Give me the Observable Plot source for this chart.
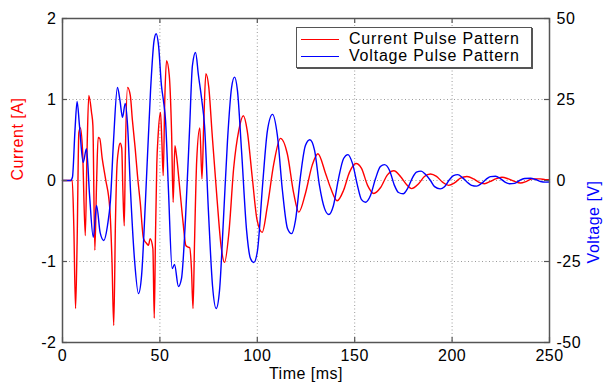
<!DOCTYPE html>
<html>
<head>
<meta charset="utf-8">
<script src="https://cdn.jsdelivr.net/npm/d3@7"></script>
<script src="https://cdn.jsdelivr.net/npm/@observablehq/plot@0.6"></script>
<style>
  body { margin: 0; background: #fff; font-family: "Liberation Sans", Arial, Helvetica, sans-serif; }
  #wrap { position: relative; width: 603px; height: 387px; overflow: hidden; }
  #chart text { letter-spacing: 0.5px; }
  #legend { position: absolute; left: 296px; top: 27px; width: 234px; height: 39px; border: 1px solid #555;
            box-shadow: 1px 1px 0 #555; background: #fff; font-size: 16px; letter-spacing: 0.8px; color: #000; }
  .row { position: absolute; left: 0; height: 18px; display: flex; align-items: center; }
  .sw { position: absolute; left: 4px; width: 38px; height: 0; border-top: 1.3px solid; }
  .lab { position: absolute; left: 52px; white-space: nowrap; line-height: 18px; }
</style>
</head>
<body>
<div id="wrap">
  <div id="chart"></div>
  <div id="legend">
    <div class="row" style="top:2px"><div class="sw" style="border-color:#ff0000"></div><div class="lab">Current Pulse Pattern</div></div>
    <div class="row" style="top:19px"><div class="sw" style="border-color:#0000ff"></div><div class="lab">Voltage Pulse Pattern</div></div>
  </div>
</div>
<script>
// Time axis [ms]
const xTicks = [0, 50, 100, 150, 200, 250];
const currentTicks = [-2, -1, 0, 1, 2];
const voltageTicks = [-50, -25, 0, 25, 50];
const voltagePerAmpAxis = 25; // right axis: 50 V corresponds to 2 A on the left axis

// Current pulse pattern [A]
const currentTime = [0, 5, 5.8, 6.7, 7.5, 8.4, 9.2, 10.3, 11.7, 12.6, 13.5, 14.9, 15.6, 16.6, 17.5, 18.3, 19.1, 20.4, 22.1, 24.3,
  25.4, 26.3, 27.2, 27.9, 28.7, 29.6, 30.4, 31, 31.7, 32.3, 33.4, 34.8, 35.9, 37.3, 38.5, 39.9, 41.6, 43.3, 44.1, 45, 46.4,
  47.1, 47.7, 48.4, 49.1, 50.3, 51, 51.7, 52.5, 53.4, 54.8, 56, 56.8, 57.7, 58.5, 60.2, 61.9, 63.3, 64.2, 65.3, 66.2, 67,
  67.8, 68.9, 70.5, 71.6, 72.5, 73.6, 75.1, 76.8, 79.4, 81.5, 83.2, 85.4, 87.9, 90.5, 92.8, 94.8, 97.4, 99.9, 102.5, 105.1,
  108.5, 111.9, 115.4, 118.7, 121.3, 124.7, 128.2, 131.1, 135, 137.6, 141, 144.3, 147.3, 150.7, 153.5, 156.6, 159.8, 163.2,
  166.8, 170.1, 173.5, 176.6, 179.2, 182.8, 185.8, 188.9, 192, 195.1, 198.2, 201.2, 204.3, 207.6, 211, 213.6, 216.6, 219.7,
  222.3, 225.6, 228.9, 232, 235.1, 238.2, 241.3, 245.2, 247.9, 250];
const currentValues = [0, 0, -0.56, -1.58, -0.77, 0.59, 0.65, 0.37, -0.68, 0.37, 1.05, 0.84, 0.68, -0.86, -0.02, 0.53, 0.52, 0.27, 0.02, -0.35,
  -0.99, -1.79, -0.49, 0.15, 0.37, 0.46, 0.4, -0.12, -0.56, 0.37, 1.15, 1.05, 0.74, 0.4, 0.06, -0.27, -0.72, -0.78, -0.8, -0.72, -0.84,
  -1.7, -0.74, 0.19, 0.56, 0.84, 0.49, 0.06, 0.99, 1.48, 1.3, 0.59, -0.27, 0.43, 0.31, -0.1, -0.52, -0.8, -0.82, -0.83, -1.09, -1.58,
  -0.74, 0.25, 0.65, 0.02, 0.7, 1.32, 1.15, 0.58, -0.25, -0.83, -1.01, -0.65, 0.16, 0.62, 0.8, 0.62, 0.04, -0.49, -0.64, -0.33,
  0.21, 0.52, 0.33, -0.16, -0.39, -0.16, 0.19, 0.33, 0.09, -0.09, -0.25, -0.12, 0.1, 0.21, 0.15, -0.06, -0.16, -0.09,
  0.07, 0.12, 0.05, -0.05, -0.1, -0.04, 0.05, 0.08, 0.05, -0.02, -0.06, -0.03, 0.03, 0.05, 0.02, -0.02, -0.04, -0.01,
  0.02, 0.04, 0.02, -0.01, -0.03, -0.01, 0.02, 0.02, 0.01, 0.01];

// Voltage pulse pattern [V]
const voltageTime = [0, 4.1, 5.1, 6.4, 7.5, 8.7, 10.6, 12.3, 13.9, 15.8, 17.5, 19.3, 21.2, 23.1, 24.6, 26.2, 28.2, 29.5, 30.8, 32.2,
  33.4, 34.9, 37, 39, 40.6, 42.6, 45.2, 47, 48.1, 49.3, 50.8, 51.8, 52.9, 54.4, 56.3, 57.5, 59.5, 61.1, 63.1, 65.2, 66.7,
  68.3, 69.8, 71.4, 72.9, 74.9, 77, 78.9, 80.6, 82.6, 84.7, 86.8, 88.3, 89.8, 91.9, 94.5, 96.5, 98.2, 100.1, 102.7, 105.2,
  107.8, 110.3, 112.9, 115.5, 117.6, 119.6, 122.2, 124.7, 127, 129.4, 131.9, 134.5, 136.7, 139.1, 141.7, 144.3, 146.5,
  148.9, 151.4, 153.5, 155.5, 158.1, 160.7, 163.2, 165.3, 167.9, 170.4, 172.5, 174.9, 177.1, 179.7, 181.7, 184.1, 186.3,
  188.9, 191, 193.9, 196.1, 198.7, 200.7, 202.9, 205.3, 207.9, 210, 212.6, 215.1, 217.7, 219.7, 222.3, 224.8, 227.4,
  229.5, 232.1, 234.6, 237.2, 240.3, 242.8, 245.4, 248, 250];
const voltageValues = [0, 0, 1, 15.4, 24.4, 17, 5.6, 9.8, -4.6, -17.5, -7.7, -16, -18.5, -13.9, -6.2, 12.3, 28.7, 24.7, 19.5, 23.8,
  17, -3, -24.7, -34.9, -29.3, -6.2, 27.8, 43.2, 45.3, 41.7, 29.3, 24.7, 18.5, -3.1, -27.2, -25.9, -32.7, -30.2, -12.3, 15.4, 35.5,
  39.5, 32.4, 25.3, 17, -9.3, -32.4, -39.5, -34, -12.3, 12.3, 28.7, 31.9, 27.8, 9.3, -15.4, -24.1, -25.3, -21.6, -1.5, 15.4,
  20.4, 13.9, -3.1, -14.8, -16.4, -12.3, 1.5, 10.8, 12.6, 9.3, -1.5, -8.6, -10.5, -7.7, 0.6, 6.8, 8,
  5.2, -1.5, -5.9, -6.7, -4.6, 0.6, 4.3, 4.9, 3.1, -1.5, -3.7, -4.1, -2.5, 0.9, 2.6, 2.9, 1.9,
  0, -1.9, -2.6, -1.9, 0.3, 1.5, 1.8, 0.9, -0.6, -1.5, -1.75, -0.9, 0.5, 1.2, 1.3, 0.6, -0.6,
  -1, -0.9, 0, 0.6, 0.7, 0.3, -0.3, -0.5, -0.45];

const current = currentTime.map((t, i) => ({t, a: currentValues[i]}));
const voltage = voltageTime.map((t, i) => ({t, v: voltageValues[i]}));

const W = 603, H = 387, mL = 62, mR = 54, mT = 18, mB = 45;
const innerW = W - mL - mR, innerH = H - mT - mB;
const tickLen = 5;
const frameColor = "#555";
const fmt = d => String(d);

const chart = Plot.plot({
  width: W, height: H,
  marginLeft: mL, marginRight: mR, marginTop: mT, marginBottom: mB,
  style: {fontFamily: '"Liberation Sans", Arial, Helvetica, sans-serif', background: "#fff"},
  x: {domain: [0, 250]},
  y: {domain: [-2, 2]},
  marks: [
    Plot.gridX(xTicks.slice(1, -1), {stroke: "#9a9a9a", strokeOpacity: 1, strokeDasharray: "1,2.5", strokeWidth: 1}),
    Plot.gridY(currentTicks.slice(1, -1), {stroke: "#9a9a9a", strokeOpacity: 1, strokeDasharray: "1,2.5", strokeWidth: 1}),
    Plot.line(current, {x: "t", y: "a", stroke: "#ff0000", strokeWidth: 1.4, curve: "monotone-x"}),
    Plot.line(voltage, {x: "t", y: d => d.v / voltagePerAmpAxis, stroke: "#0000ff", strokeWidth: 1.4, curve: "monotone-x"}),
    Plot.frame({stroke: frameColor, strokeWidth: 1.5}),
    // inward ticks
    Plot.tickX(xTicks, {x: d => d, insetTop: innerH - tickLen, stroke: frameColor, strokeWidth: 1.2}),
    Plot.tickX(xTicks, {x: d => d, insetBottom: innerH - tickLen, stroke: frameColor, strokeWidth: 1.2}),
    Plot.tickY(currentTicks, {y: d => d, insetRight: innerW - tickLen, stroke: frameColor, strokeWidth: 1.2}),
    Plot.tickY(currentTicks, {y: d => d, insetLeft: innerW - tickLen, stroke: frameColor, strokeWidth: 1.2}),
    // tick labels
    Plot.axisX(xTicks, {anchor: "bottom", tickSize: 0, tickPadding: 7, tickFormat: fmt, fontSize: 16, fill: "#000", label: null}),
    Plot.axisY(currentTicks, {anchor: "left", tickSize: 0, tickPadding: 6, tickFormat: fmt, fontSize: 16, fill: "#000", label: null}),
    Plot.axisY(voltageTicks.map(v => v / voltagePerAmpAxis), {anchor: "right", tickSize: 0, tickPadding: 7,
      tickFormat: d => fmt(Math.round(d * voltagePerAmpAxis)), fontSize: 16, fill: "#000", label: null}),
    // axis titles
    Plot.text(["Time [ms]"], {frameAnchor: "bottom", dy: 36, fontSize: 16, fill: "#000"}),
    Plot.text(["Current [A]"], {frameAnchor: "left", dx: -45, rotate: -90, fontSize: 16, fill: "#ff0000"}),
    Plot.text(["Voltage [V]"], {frameAnchor: "right", dx: 44, rotate: -90, fontSize: 16, fill: "#0000ff"})
  ]
});
document.getElementById("chart").appendChild(chart);
</script>
</body>
</html>
